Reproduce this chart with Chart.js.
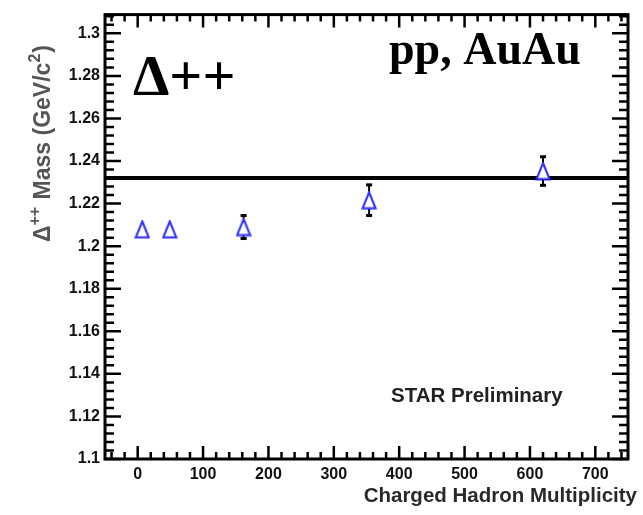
<!DOCTYPE html>
<html>
<head>
<meta charset="utf-8">
<script src="https://cdn.jsdelivr.net/npm/chart.js@4.4.1/dist/chart.umd.min.js"></script>
<style>
  html, body { margin: 0; padding: 0; background: #fff; }
  canvas { display: block; }
</style>
</head>
<body>
<canvas id="massChart" width="643" height="515"></canvas>
<script>
// Delta++ mass vs. charged hadron multiplicity, pp and AuAu
const multiplicity = [7, 49, 162, 354, 620];
const deltaMass = [1.2079, 1.2079, 1.2090, 1.2216, 1.2353];
const deltaMassErr = [0.003, 0.003, 0.0054, 0.0072, 0.0067];
const pdgMass = 1.232;

const xTickValues = [0, 100, 200, 300, 400, 500, 600, 700];
const yTickValues = [1.1, 1.12, 1.14, 1.16, 1.18, 1.2, 1.22, 1.24, 1.26, 1.28, 1.3];
const xMin = -50, xMax = 750;
const yMin = 1.1, yMax = 1.3088;

const SANS = '"Liberation Sans", Arial, sans-serif';
const SERIF = '"Liberation Serif", "Times New Roman", serif';
const MARKER_HALF = 8.5;

// open triangle, white inside so the error bar doesn't show through
function triangleMarker() {
    const c = document.createElement("canvas");
    c.width = 16;
    c.height = 19;
    const g = c.getContext("2d");
    g.beginPath();
    g.moveTo(8, 1.5);
    g.lineTo(14.5, 17.5);
    g.lineTo(1.5, 17.5);
    g.closePath();
    g.fillStyle = "#fff";
    g.fill();
    g.strokeStyle = "#2b2bff";
    g.lineWidth = 2;
    g.stroke();
    return c;
}

// ROOT-like error bars: drawn only outside the marker, with small caps
const errorBars = {
    id: "errorBars",
    beforeDatasetsDraw(chart) {
        const { ctx, scales: { x, y } } = chart;
        ctx.save();
        ctx.strokeStyle = "#000";
        ctx.fillStyle = "#000";
        ctx.lineWidth = 2;
        multiplicity.forEach((m, i) => {
            const px = x.getPixelForValue(m);
            const py = y.getPixelForValue(deltaMass[i]);
            const top = y.getPixelForValue(deltaMass[i] + deltaMassErr[i]);
            const bot = y.getPixelForValue(deltaMass[i] - deltaMassErr[i]);
            [[py - MARKER_HALF, top], [py + MARKER_HALF, bot]].forEach(([from, to]) => {
                if (Math.abs(to - py) <= MARKER_HALF) return;
                ctx.beginPath();
                ctx.moveTo(px, from);
                ctx.lineTo(px, to);
                ctx.stroke();
                ctx.fillRect(px - 3, to - 1.5, 6, 3);
            });
        });
        ctx.restore();
    },
};

// frame with inward ticks on all four sides
const rootFrame = {
    id: "rootFrame",
    afterDatasetsDraw(chart) {
        const { ctx, chartArea: a, scales: { x, y } } = chart;
        ctx.save();
        ctx.strokeStyle = "#000";
        ctx.lineWidth = 2.5;
        ctx.beginPath();
        for (let v = -40; v <= 740; v += 20) {
            const px = x.getPixelForValue(v);
            const len = v % 100 === 0 ? 13 : 7;
            ctx.moveTo(px, a.bottom);
            ctx.lineTo(px, a.bottom - len);
            ctx.moveTo(px, a.top);
            ctx.lineTo(px, a.top + len);
        }
        for (let k = 0; k <= 52; k++) {
            const py = y.getPixelForValue(yMin + k * 0.004);
            const len = k % 5 === 0 ? 16 : 9;
            ctx.moveTo(a.left, py);
            ctx.lineTo(a.left + len, py);
            ctx.moveTo(a.right, py);
            ctx.lineTo(a.right - len, py);
        }
        ctx.stroke();
        ctx.lineWidth = 3;
        ctx.strokeRect(a.left, a.top, a.right - a.left, a.bottom - a.top);
        ctx.restore();
    },
};

const labels = {
    id: "labels",
    afterDraw(chart) {
        const { ctx } = chart;
        ctx.save();
        ctx.textBaseline = "alphabetic";

        // y axis title, rotated, with superscripts
        ctx.translate(50, 242);
        ctx.rotate(-Math.PI / 2);
        ctx.fillStyle = "#555";
        const parts = [
            ["\u0394", 23, 0],
            ["++", 16, -10],
            [" Mass (GeV/c", 23, 0],
            ["2", 16, -10],
            [")", 23, 0],
        ];
        let cx = 0;
        parts.forEach(([t, size, dy]) => {
            ctx.font = `bold ${size}px ${SANS}`;
            ctx.fillText(t, cx, dy);
            cx += ctx.measureText(t).width + (size < 23 ? 1 : 0);
        });
        ctx.restore();

        ctx.save();
        ctx.fillStyle = "#2a2a2a";
        ctx.font = `bold 20.5px ${SANS}`;
        ctx.textAlign = "right";
        ctx.fillText("Charged Hadron Multiplicity", 637, 502);

        ctx.textAlign = "left";
        ctx.fillStyle = "#222";
        ctx.font = `bold 20.5px ${SANS}`;
        ctx.fillText("STAR Preliminary", 391, 402);

        ctx.fillStyle = "#000";
        ctx.font = `bold 46px ${SERIF}`;
        ctx.fillText("pp, AuAu", 389, 64);

        ctx.font = `bold 58px ${SERIF}`;
        ctx.fillText("\u0394++", 133, 95);
        ctx.restore();
    },
};

const tickFont = { family: SANS, weight: "bold", size: 16 };

new Chart(document.getElementById("massChart"), {
    type: "scatter",
    data: {
        datasets: [
            {
                label: "Delta++",
                data: multiplicity.map((m, i) => ({ x: m, y: deltaMass[i] })),
                pointStyle: triangleMarker(),
                pointRadius: 9,
                order: 0,
            },
            {
                type: "line",
                label: "PDG mass",
                data: [{ x: xMin, y: pdgMass }, { x: xMax, y: pdgMass }],
                borderColor: "#000",
                borderWidth: 4,
                pointRadius: 0,
                order: 1,
            },
        ],
    },
    options: {
        responsive: false,
        animation: false,
        devicePixelRatio: 1,
        layout: { padding: { top: 10, right: 15, left: 0, bottom: 0 } },
        scales: {
            x: {
                type: "linear",
                min: xMin,
                max: xMax,
                grid: { display: false, drawTicks: false },
                border: { display: false },
                afterBuildTicks: (scale) => {
                    scale.ticks = xTickValues.map((v) => ({ value: v }));
                },
                afterFit: (scale) => {
                    scale.height = 56;
                },
                ticks: {
                    font: tickFont,
                    color: "#111",
                    padding: 6,
                    maxRotation: 0,
                },
            },
            y: {
                type: "linear",
                min: yMin,
                max: yMax,
                grid: { display: false, drawTicks: false },
                border: { display: false },
                afterBuildTicks: (scale) => {
                    scale.ticks = yTickValues.map((v) => ({ value: v }));
                },
                afterFit: (scale) => {
                    scale.width = 105;
                },
                ticks: {
                    font: tickFont,
                    color: "#111",
                    padding: 5,
                    callback: (v) => String(+v.toFixed(2)),
                },
            },
        },
        plugins: {
            legend: { display: false },
            tooltip: { enabled: false },
        },
    },
    plugins: [errorBars, rootFrame, labels],
});
</script>
</body>
</html>
